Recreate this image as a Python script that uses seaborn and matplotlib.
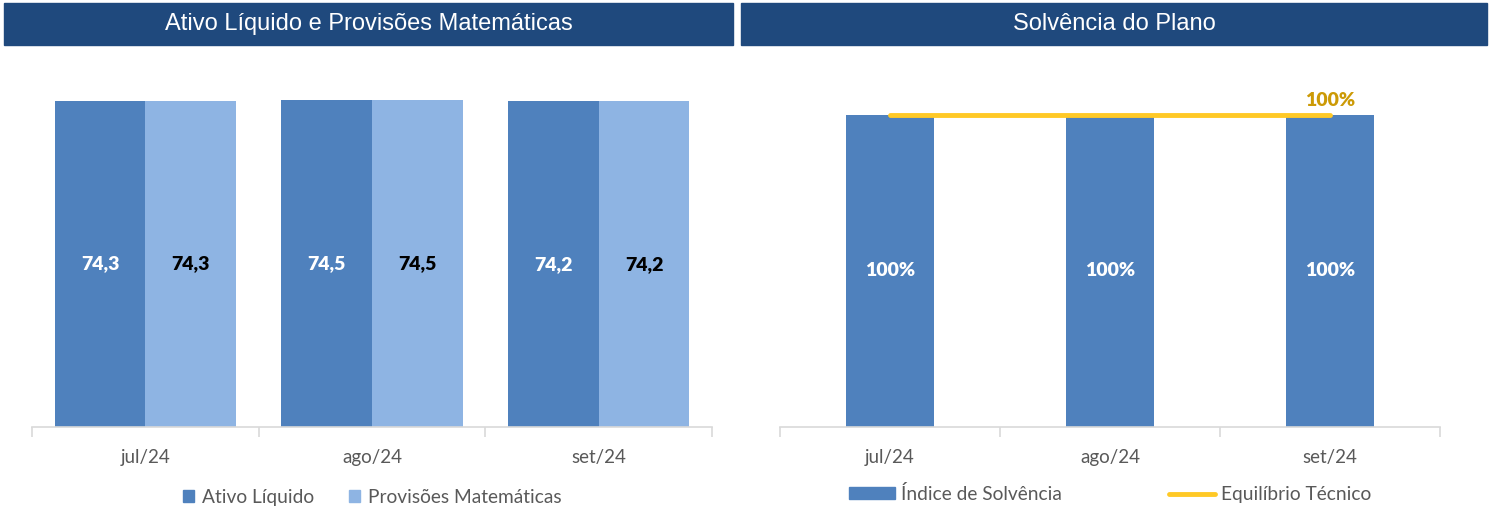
import matplotlib
matplotlib.use("Agg")
import matplotlib.pyplot as plt
import seaborn as sns
import pandas as pd
import numpy as np
from matplotlib.patches import Rectangle, Patch
from matplotlib.lines import Line2D

months = ["jul/24", "ago/24", "set/24"]
ativo_liquido = [74.3, 74.5, 74.2]
provisoes = [74.3, 74.5, 74.2]
indice_solvencia = [1.00, 1.00, 1.00]
equilibrio = [1.00, 1.00, 1.00]

sns.set_theme(style="white")
plt.rcParams['font.family'] = ['Lato', 'DejaVu Sans']

W, H = 1491, 511
fig = plt.figure(figsize=(W / 100, H / 100), dpi=100)

def px_rect(x0, y0, x1, y1):
    return [x0 / W, 1 - y1 / H, (x1 - x0) / W, (y1 - y0) / H]

HEADER = "#1F497D"
C_ATIVO = "#4F81BD"
C_PROV = "#8EB4E3"
C_LINE = "#FFC926"
C_LABEL = "#CC9A06"
GRID = "#D9D9D9"
TXT = "#595959"

# headers
for (x0, x1, title) in [(4, 733, "Ativo Líquido e Provisões Matemáticas"),
                        (741, 1487, "Solvência do Plano")]:
    fig.patches.append(Rectangle((x0 / W, 1 - 45 / H), (x1 - x0) / W, 42 / H,
                                 transform=fig.transFigure, color=HEADER, zorder=0))
    fig.text((x0 + x1) / 2 / W, 1 - 24 / H, title, color="white", fontsize=17,
             ha="center", va="center", family=["Liberation Sans", "DejaVu Sans"])

def style_axis(ax):
    for s in ["top", "right", "left"]:
        ax.spines[s].set_visible(False)
    ax.spines["bottom"].set_color(GRID)
    ax.spines["bottom"].set_linewidth(1.2)
    ax.set_yticks([])
    ax.set_xlim(-0.5, 2.5)
    ax.set_xticks([0, 1, 2])
    ax.set_xticklabels(months, fontsize=13.5, color=TXT)
    ax.tick_params(axis="x", which="major", length=0, pad=16, bottom=False)
    ax.set_xticks([-0.5, 0.5, 1.5, 2.5], minor=True)
    ax.tick_params(axis="x", which="minor", length=7, width=1.2, color=GRID,
                   direction="out", bottom=True)
    ax.set_xlabel("")
    ax.set_ylabel("")

# left chart
ax1 = fig.add_axes(px_rect(32, 76, 712, 427))
df1 = pd.DataFrame({
    "mes": months * 2,
    "valor": ativo_liquido + provisoes,
    "serie": ["Ativo Líquido"] * 3 + ["Provisões Matemáticas"] * 3,
})
sns.barplot(data=df1, x="mes", y="valor", hue="serie",
            palette=[C_ATIVO, C_PROV], width=0.8, saturation=1,
            ax=ax1, legend=False, linewidth=0)
ax1.set_ylim(0, 80)
style_axis(ax1)
for cont, col in zip(ax1.containers, ["white", "black"]):
    labels = [f"{v:.1f}".replace(".", ",") for v in cont.datavalues]
    ax1.bar_label(cont, labels=labels, label_type="center", color=col,
                  fontsize=14, fontweight="heavy")
leg1 = ax1.legend(handles=[Patch(color=C_ATIVO, label="Ativo Líquido"),
                           Patch(color=C_PROV, label="Provisões Matemáticas")],
                  loc="center", bbox_to_anchor=(0.5, 1 - (497 - 76) / (427 - 76)),
                  ncol=2, frameon=False, fontsize=13.8, handlelength=0.6,
                  handleheight=0.6, handletextpad=0.4, columnspacing=1.8)
for t in leg1.get_texts():
    t.set_color(TXT)

# right chart
ax2 = fig.add_axes(px_rect(780, 76, 1440, 427))
df2 = pd.DataFrame({"mes": months, "valor": indice_solvencia})
sns.barplot(data=df2, x="mes", y="valor", color=C_ATIVO, width=0.4,
            saturation=1, ax=ax2, linewidth=0)
sns.lineplot(x=np.arange(3), y=equilibrio, color=C_LINE, linewidth=3.5,
             ax=ax2, solid_capstyle="round")
ax2.set_ylim(0, 1.125)
style_axis(ax2)
ax2.bar_label(ax2.containers[0],
              labels=[f"{v:.0%}" for v in indice_solvencia],
              label_type="center", color="white", fontsize=14, fontweight="heavy")
ax2.annotate(f"{equilibrio[-1]:.0%}", (2, equilibrio[-1]), xytext=(0, 4),
             textcoords="offset points", ha="center", va="bottom",
             color=C_LABEL, fontsize=14, fontweight="heavy")
leg2 = ax2.legend(handles=[Patch(color=C_ATIVO, label="Índice de Solvência"),
                           Line2D([], [], color=C_LINE, linewidth=3.5,
                                  solid_capstyle="round", label="Equilíbrio Técnico")],
                  loc="center", bbox_to_anchor=(0.5, 1 - (494 - 76) / (427 - 76)),
                  ncol=2, frameon=False, fontsize=13.8, handlelength=2.4,
                  handleheight=0.55, handletextpad=0.3, columnspacing=5.6)
for t in leg2.get_texts():
    t.set_color(TXT)

fig.savefig("out.png", dpi=100)
